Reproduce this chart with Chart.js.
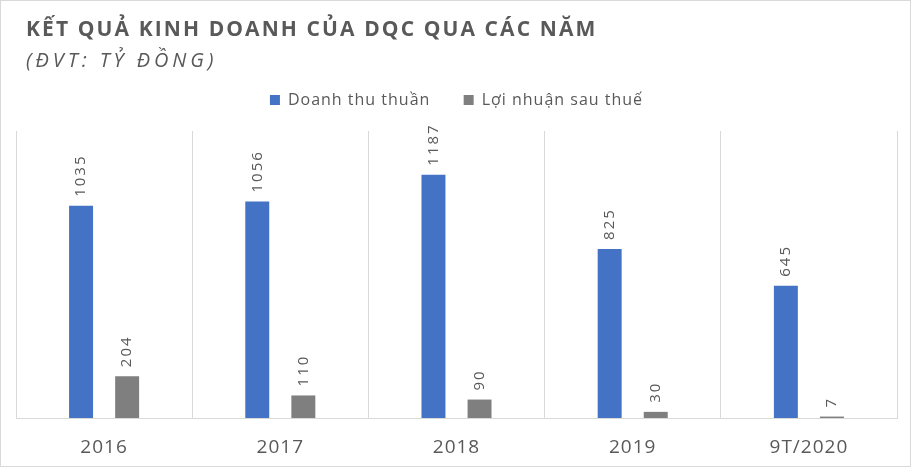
<!DOCTYPE html>
<html>
<head>
<meta charset="utf-8">
<script src="https://cdn.jsdelivr.net/npm/chart.js@4.4.0/dist/chart.umd.min.js"></script>
<style>
  html, body { margin: 0; padding: 0; background: #fff; }
  #wrap { width: 911px; height: 467px; box-sizing: border-box; border: 1px solid #d9d9d9; }
  #kqkd { display: block; }
</style>
</head>
<body>
<div id="wrap"><canvas id="kqkd" width="909" height="465"></canvas></div>
<script>
// so lieu doc tu hinh (ty dong)
var chartTitle = "KẾT QUẢ KINH DOANH CỦA DQC QUA CÁC NĂM"
var chartSubtitle = "(ĐVT: TỶ ĐỒNG)"
var years = ["2016", "2017", "2018", "2019", "9T/2020"]
var seriesNames = ["Doanh thu thuần", "Lợi nhuận sau thuế"]
var doanhThu = [1035, 1056, 1187, 825, 645]
var loiNhuan = [204, 110, 90, 30, 7]
var yMax = 1400

var textColor = "#595959"

// letter spacing cho toan bo chu cua chart
var spacing = {
	id: "spacing",
	beforeLayout: function(chart) { chart.ctx.letterSpacing = "1px" },
	beforeDraw: function(chart) { chart.ctx.letterSpacing = "1px" }
}

// tieu de + dong don vi, can trai
var header = {
	id: "header",
	afterDraw: function(chart) {
		var ctx = chart.ctx
		ctx.save()
		ctx.fillStyle = textColor
		ctx.textAlign = "left"
		ctx.textBaseline = "alphabetic"
		ctx.letterSpacing = "2.1px"
		ctx.font = "700 21px 'Open Sans'"
		ctx.fillText(chartTitle, 25, 35)
		ctx.letterSpacing = "3.9px"
		ctx.font = "italic 400 20px 'Open Sans'"
		ctx.fillText(chartSubtitle, 25, 66)
		ctx.restore()
	}
}

// nhan so lieu dung doc tren dau cot
var barLabels = {
	id: "barLabels",
	afterDatasetsDraw: function(chart) {
		var ctx = chart.ctx
		ctx.save()
		ctx.fillStyle = textColor
		ctx.font = "400 15px 'Open Sans'"
		ctx.letterSpacing = "2px"
		ctx.textAlign = "left"
		ctx.textBaseline = "middle"
		chart.data.datasets.forEach(function(ds, i) {
			chart.getDatasetMeta(i).data.forEach(function(bar, j) {
				ctx.save()
				ctx.translate(bar.x, bar.y - 9)
				ctx.rotate(-Math.PI / 2)
				ctx.fillText(String(ds.data[j]), 0, 0)
				ctx.restore()
			})
		})
		ctx.restore()
	}
}

var ctx = document.getElementById("kqkd")
var chart = new Chart(ctx, {
	type: "bar",
	data: {
		labels: years,
		datasets: [
			{ label: seriesNames[0], data: doanhThu, backgroundColor: "#4472C4" },
			{ label: seriesNames[1], data: loiNhuan, backgroundColor: "#7F7F7F" }
		]
	},
	options: {
		responsive: false,
		animation: false,
		devicePixelRatio: 1,
		categoryPercentage: 0.523,
		barPercentage: 0.52,
		layout: { padding: { top: 68, left: 15, right: 13, bottom: 0 } },
		plugins: {
			tooltip: { enabled: false },
			// khoang trong giua legend va vung ve
			subtitle: { display: true, text: "", weight: 500, font: { size: 10 }, padding: { top: 1, bottom: 0 } },
			legend: {
				position: "top",
				labels: {
					color: textColor,
					font: { family: "'Open Sans'", size: 16 },
					boxWidth: 10,
					boxHeight: 10,
					padding: 23,
					generateLabels: function(chart) {
						var items = Chart.defaults.plugins.legend.labels.generateLabels(chart)
						items.forEach(function(it, i) {
							it.lineWidth = 0
							if (i < items.length - 1) it.text = it.text + "  "
						})
						return items
					}
				}
			}
		},
		scales: {
			x: {
				grid: { color: "#d9d9d9", drawTicks: false, offset: true },
				border: { color: "#d9d9d9" },
				ticks: { color: textColor, font: { family: "'Open Sans'", size: 19 }, padding: 18 },
				afterFit: function(scale) { scale.height = 48 }
			},
			y: { display: false, min: 0, max: yMax }
		}
	},
	plugins: [spacing, header, barLabels]
})
</script>
</body>
</html>
